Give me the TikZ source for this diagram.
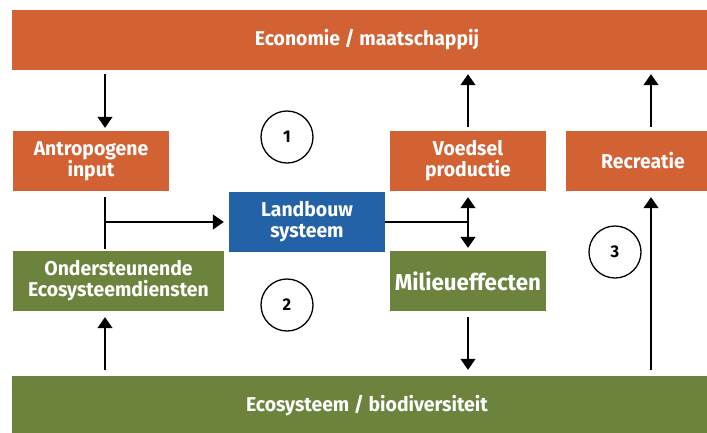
\documentclass[tikz,border=0pt]{standalone}
\usepackage{fontspec}
\setmainfont{Fira Sans}
\newfontfamily\lbl{Fira Sans}[FakeStretch=0.97]
\usetikzlibrary{arrows.meta}
\definecolor{orng}{RGB}{210,98,52}
\definecolor{grn}{RGB}{108,131,62}
\definecolor{blu}{RGB}{36,98,168}
\begin{document}
\begin{tikzpicture}[x=1pt,y=-1pt,
  box/.style={fill=#1, draw=none, inner sep=0pt, text=white, align=center,
    minimum height=60pt, font={\lbl\bfseries\fontsize{20}{21}\selectfont}},
  num/.style={circle, draw, line width=1.3pt, minimum size=52pt, inner sep=0pt,
    font={\lbl\bfseries\fontsize{17}{18}\selectfont}},
  ln/.style={line width=1.4pt},
  arr/.style={line width=1.4pt, -{Triangle[width=15pt,length=11pt]}},
  darr/.style={line width=1.4pt, {Triangle[width=15pt,length=11pt]}-{Triangle[width=15pt,length=11pt]}}]
\useasboundingbox (0,0) rectangle (707,432);
% boxes
\node[box=orng, minimum width=710pt, font={\lbl\bfseries\fontsize{20}{22}\selectfont}] (eco) at (367,40) {Economie / maatschappij};
\node[box=grn, minimum width=710pt, font={\lbl\bfseries\fontsize{20}{22}\selectfont}] (bio) at (367,406) {Ecosysteem / biodiversiteit};
\node[box=orng, minimum width=156pt] (antro) at (91,161) {Antropogene\\input};
\node[box=grn, minimum width=211pt] (onder) at (118.5,281) {Ondersteunende\\Ecosysteemdiensten};
\node[box=blu, minimum width=156pt] (land) at (307,222) {Landbouw\\systeem};
\node[box=orng, minimum width=156pt] (voed) at (468,161) {Voedsel\\productie};
\node[box=grn, minimum width=156pt, font={\lbl\bfseries\fontsize{23}{24}\selectfont}] (mil) at (468,281) {Milieueffecten};
\node[box=orng, minimum width=154pt] (rec) at (643,161) {Recreatie};
% numbered circles
\node[num] (c1) at (287,137) {1};
\node[num] (c2) at (287,305) {2};
\node[num] (c3) at (615,252) {3};
% x positions
\coordinate (xa) at (105,0);
\coordinate (xv) at (468,0);
\coordinate (xr) at (651,0);
\coordinate (jn) at (105,222);
\coordinate (jv) at (468,222);
% connectors
\draw[arr, shorten <=4pt, shorten >=3pt] (eco.south -| xa) -- (antro.north -| xa);
\draw[arr, shorten <=4pt, shorten >=4pt] (voed.north -| xv) -- (eco.south -| xv);
\draw[arr, shorten <=4pt, shorten >=4pt] (rec.north -| xr) -- (eco.south -| xr);
\draw[ln, shorten <=6pt, shorten >=2pt] (antro.south -| xa) -- (onder.north -| xa);
\draw[arr, shorten >=5pt] (jn) -- (land.west);
\draw[ln] (land.east) -- (jv);
\draw[darr, shorten <=6pt, shorten >=3pt] (voed.south -| xv) -- (mil.north -| xv);
\draw[arr, shorten <=6pt, shorten >=6pt] (bio.north -| xa) -- (onder.south -| xa);
\draw[arr, shorten <=6pt, shorten >=6pt] (mil.south -| xv) -- (bio.north -| xv);
\draw[arr, shorten <=6pt, shorten >=6pt] (bio.north -| xr) -- (rec.south -| xr);
\end{tikzpicture}
\end{document}
